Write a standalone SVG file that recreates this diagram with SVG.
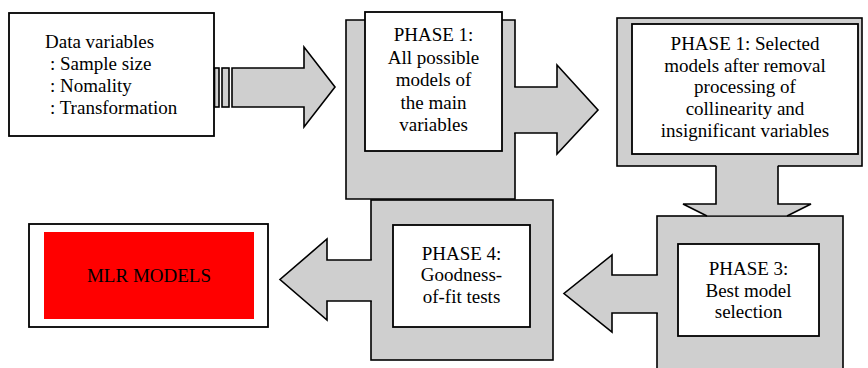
<svg xmlns="http://www.w3.org/2000/svg" width="868" height="368" viewBox="0 0 868 368" font-family="'Liberation Serif', 'Times New Roman', Times, serif" font-size="19">
<style>
.frame{fill:#cfcfcf;stroke:#000;stroke-width:1.6}
.box{fill:#fff;stroke:#000;stroke-width:1.8}
.af{fill:#cfcfcf;stroke:none}
.as{fill:none;stroke:#000;stroke-width:1.6;stroke-linejoin:miter}
.t{font-family:'Liberation Serif','Times New Roman',Times,serif;font-size:19px;fill:#000}
.c{text-anchor:middle}
</style>
<rect width="868" height="368" fill="#fff"/>
<g id="data-variables">
<rect class="box" x="9" y="13" width="205" height="123"/>
<text class="t" x="45" y="48">Data variables</text>
<text class="t" x="50" y="70">: Sample size</text>
<text class="t" x="50" y="92">: Nomality</text>
<text class="t" x="50" y="114">: Transformation</text>
</g>
<g id="phase1-all">
<polygon class="frame" points="346,20 515,20 515,199 346,199"/>
<rect class="box" x="365" y="12" width="137" height="139"/>
<text class="t c" x="433.5" y="41">PHASE 1:</text>
<text class="t c" x="433.5" y="63.5">All possible</text>
<text class="t c" x="433.5" y="86">models of</text>
<text class="t c" x="433.5" y="108.5">the main</text>
<text class="t c" x="433.5" y="131">variables</text>
</g>
<g id="phase1-selected">
<rect class="frame" x="617" y="18" width="245" height="148"/>
<rect class="box" x="632" y="24" width="226" height="130"/>
<text class="t c" x="745" y="49.5">PHASE 1: Selected</text>
<text class="t c" x="745" y="71.5">models after removal</text>
<text class="t c" x="745" y="93">processing of</text>
<text class="t c" x="745" y="115">collinearity and</text>
<text class="t c" x="745" y="136.5">insignificant variables</text>
</g>
<g id="phase3">
<rect class="frame" x="657" y="216" width="186" height="170"/>
<rect class="box" x="678" y="244" width="141" height="92"/>
<text class="t c" x="748.5" y="275">PHASE 3:</text>
<text class="t c" x="748.5" y="296.5">Best model</text>
<text class="t c" x="748.5" y="318">selection</text>
</g>
<g id="phase4">
<rect class="frame" x="371" y="200" width="182" height="160"/>
<rect class="box" x="393" y="225" width="137" height="102"/>
<text class="t c" x="461.5" y="260">PHASE 4:</text>
<text class="t c" x="461.5" y="281">Goodness-</text>
<text class="t c" x="461.5" y="303">of-fit tests</text>
</g>
<g id="mlr-models">
<rect class="box" x="29" y="224" width="239" height="103"/>
<rect x="44" y="232" width="210" height="87" fill="#ff0000"/>
<text class="t c" x="149" y="282">MLR MODELS</text>
</g>
<g id="connectors">
<g id="c-data-phase1">
<rect class="frame" x="214.5" y="68" width="4.5" height="39"/>
<rect class="frame" x="222" y="68" width="7" height="39"/>
<polygon class="frame" points="232,68 304,68 304,47 335,87 304,127 304,107 232,107"/>
</g>
<g id="c-phase1-selected">
<polygon class="af" points="514,87 557,87 557,65 598,110 557,154 557,133 514,133"/>
<polyline class="as" points="514.2,87 557,87 557,65 598,110 557,154 557,133 514.2,133"/>
</g>
<g id="c-selected-phase3">
<polygon class="af" points="716,165 778,165 778,204 811,204 788.5,215.2 705.5,215.2 683,204 716,204"/>
<polyline class="as" points="716,165.8 716,204 683,204 707,216"/>
<polyline class="as" points="778,165.8 778,204 811,204 787,216"/>
</g>
<g id="c-phase3-phase4">
<polygon class="af" points="658,275 612,275 612,255 564,293.5 612,332 612,313 658,313"/>
<polyline class="as" points="657.8,275 612,275 612,255 564,293.5 612,332 612,313 657.8,313"/>
</g>
<g id="c-phase4-mlr">
<polygon class="af" points="372,260 327,260 327,239 280,279.5 327,320 327,301 372,301"/>
<polyline class="as" points="371.8,260 327,260 327,239 280,279.5 327,320 327,301 371.8,301"/>
</g>
</g>
</svg>
